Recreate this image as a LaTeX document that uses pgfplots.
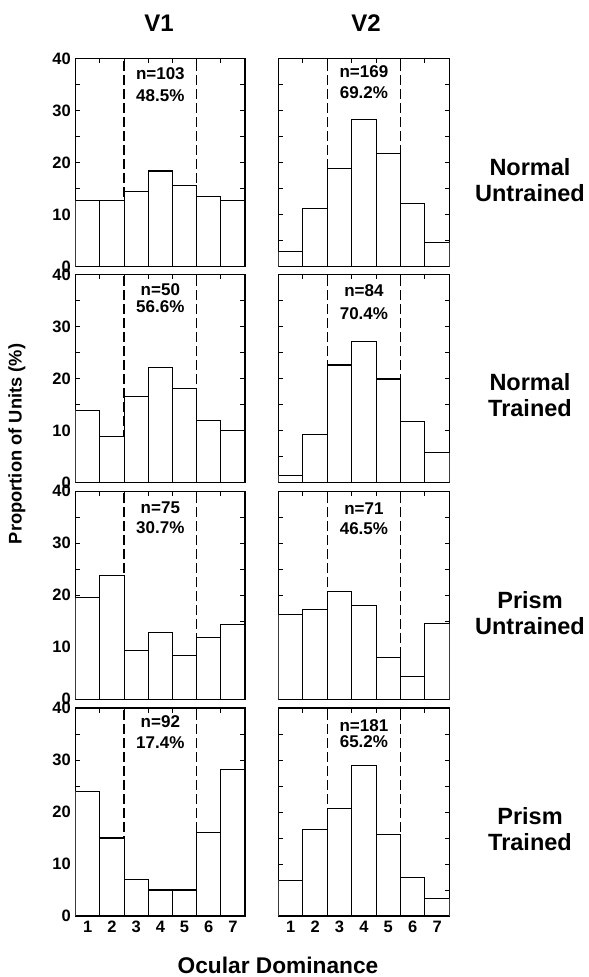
\documentclass[border=0pt]{standalone}
\usepackage{fontspec}
\setmainfont{Liberation Sans}
\usepackage{pgfplots}
\pgfplotsset{compat=1.18}
\pgfplotsset{
  odstyle/.style={
    scale only axis, anchor=south west,
    height=208bp,
    xmin=0.5, xmax=7.5, ymin=0, ymax=40,
    axis line style={line width=1.4bp, black},
    xtick={1,...,7}, minor xtick={1.5,2.5,...,6.5},
    major x tick style={draw=none},
    ytick={0,10,20,30,40}, minor ytick={5,15,25,35},
    tick align=inside,
    tick style={line width=1bp, black},
    major tick length=4.5bp, minor tick length=4.5bp,
    xticklabels={},
    /pgf/number format/assume math mode=true,
    tick label style={font=\fontsize{16.5bp}{18bp}\selectfont\bfseries},
    yticklabel style={xshift=-1.5bp},
    xticklabel style={text height=12bp, text depth=0bp, yshift=-1bp},
  },
  v1/.style={odstyle, width=169.3bp},
  v2/.style={odstyle, width=170.8bp, yticklabels={}},
  bottomrow/.style={xticklabels={1,2,3,4,5,6,7}},
  bars/.style={ybar, bar width=1, fill=white, draw=black, line width=1.1bp},
  dline/.style={black, line width=1.3bp, dash pattern=on 10bp off 4bp},
}
\newcommand{\ntext}[3]{%
  \node[font=\fontsize{17bp}{19bp}\selectfont\bfseries] at (axis cs:4,{40-#3/5.2}) {#1};}
\begin{document}
\begin{tikzpicture}
\useasboundingbox (0,0) rectangle (589bp,977bp);
% ---------------- Row 1 ----------------
\begin{axis}[v1, at={(75.7bp,710.3bp)}]
\addplot[dline] coordinates {(2.5,0) (2.5,40)};
\addplot[dline] coordinates {(5.5,0) (5.5,40)};
\addplot[bars] coordinates {(1,12.7) (2,12.7) (3,14.5) (4,18.4) (5,15.6) (6,13.5) (7,12.7)};
\ntext{n=103}{}{15}
\ntext{48.5\%}{}{36.5}
\end{axis}
\begin{axis}[v2, at={(278.5bp,710.3bp)}]
\addplot[dline] coordinates {(2.5,0) (2.5,40)};
\addplot[dline] coordinates {(5.5,0) (5.5,40)};
\addplot[bars] coordinates {(1,2.9) (2,11.2) (3,18.8) (4,28.3) (5,21.8) (6,12.1) (7,4.7)};
\ntext{n=169}{}{12.7}
\ntext{69.2\%}{}{33.7}
\end{axis}
% ---------------- Row 2 ----------------
\begin{axis}[v1, at={(75.7bp,494.5bp)}]
\addplot[dline] coordinates {(2.5,0) (2.5,40)};
\addplot[dline] coordinates {(5.5,0) (5.5,40)};
\addplot[bars] coordinates {(1,13.9) (2,8.9) (3,16.6) (4,22.1) (5,18.0) (6,12.0) (7,10.0)};
\ntext{n=50}{}{15.3}
\ntext{56.6\%}{}{31.7}
\end{axis}
\begin{axis}[v2, at={(278.5bp,494.5bp)}]
\addplot[dline] coordinates {(2.5,0) (2.5,40)};
\addplot[dline] coordinates {(5.5,0) (5.5,40)};
\addplot[bars] coordinates {(1,1.4) (2,9.2) (3,22.6) (4,27.2) (5,19.9) (6,11.8) (7,5.7)};
\ntext{n=84}{}{16}
\ntext{70.4\%}{}{38.7}
\end{axis}
% ---------------- Row 3 ----------------
\begin{axis}[v1, at={(75.7bp,277.7bp)}]
\addplot[dline] coordinates {(2.5,0) (2.5,40)};
\addplot[dline] coordinates {(5.5,0) (5.5,40)};
\addplot[bars] coordinates {(1,19.5) (2,23.8) (3,9.3) (4,12.8) (5,8.4) (6,11.8) (7,14.4)};
\ntext{n=75}{}{16}
\ntext{30.7\%}{}{36.7}
\end{axis}
\begin{axis}[v2, at={(278.5bp,277.7bp)}]
\addplot[dline] coordinates {(2.5,0) (2.5,40)};
\addplot[dline] coordinates {(5.5,0) (5.5,40)};
\addplot[bars] coordinates {(1,16.3) (2,17.3) (3,20.8) (4,18.1) (5,8.1) (6,4.4) (7,14.5)};
\ntext{n=71}{}{17.7}
\ntext{46.5\%}{}{37.7}
\end{axis}
% ---------------- Row 4 ----------------
\begin{axis}[v1, bottomrow, at={(75.7bp,61bp)}]
\addplot[dline] coordinates {(2.5,0) (2.5,40)};
\addplot[dline] coordinates {(5.5,0) (5.5,40)};
\addplot[bars] coordinates {(1,24.0) (2,15.0) (3,7.0) (4,5.0) (5,5.0) (6,16.0) (7,28.2)};
\ntext{n=92}{}{14}
\ntext{17.4\%}{}{35}
\end{axis}
\begin{axis}[v2, bottomrow, at={(278.5bp,61bp)}]
\addplot[dline] coordinates {(2.5,0) (2.5,40)};
\addplot[dline] coordinates {(5.5,0) (5.5,40)};
\addplot[bars] coordinates {(1,6.9) (2,16.7) (3,20.6) (4,29.0) (5,15.6) (6,7.4) (7,3.4)};
\ntext{n=181}{}{17.3}
\ntext{65.2\%}{}{34}
\end{axis}
% ---------------- Labels ----------------
\node[font=\fontsize{24bp}{28bp}\selectfont\bfseries] at (159bp,954bp) {V1};
\node[font=\fontsize{24bp}{28bp}\selectfont\bfseries] at (366bp,954bp) {V2};
\begin{scope}[every node/.style={font=\fontsize{23.5bp}{26bp}\selectfont\bfseries}]
\node at (530bp,810bp) {Normal};
\node at (530bp,784bp) {Untrained};
\node at (530bp,595bp) {Normal};
\node at (530bp,569bp) {Trained};
\node at (530bp,377bp) {Prism};
\node at (530bp,351bp) {Untrained};
\node at (530bp,161bp) {Prism};
\node at (530bp,135bp) {Trained};
\end{scope}
\node[font=\fontsize{22.7bp}{26bp}\selectfont\bfseries, inner sep=1bp] at (278bp,12bp) {Ocular Dominance};
\node[rotate=90, font=\fontsize{18.3bp}{22bp}\selectfont\bfseries] at (17bp,533bp) {Proportion of Units (\%)};
\end{tikzpicture}
\end{document}
